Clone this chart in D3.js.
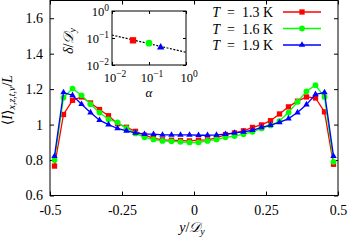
<!DOCTYPE html>
<html>
<head>
<style>
  body { margin: 0; background: #fff; }
  text { font-family: "Liberation Serif", "DejaVu Serif", serif; fill: #000; }
  .axis path { stroke: none; }
  .axis line { stroke: #000; stroke-width: 1; }
  .axis text { font-size: 14px; font-family: "Liberation Serif", serif; }
</style>
<script src="https://d3js.org/d3.v7.min.js"></script>
</head>
<body>
<svg width="349" height="240"></svg>
<script>
// y/D_y bin centres (32 bins)
var ypos = d3.range(32).map(function(i) { return -0.5 + (i + 0.5) / 32; });

var i13 = [0.766, 1.057, 1.137, 1.156, 1.122, 1.085, 1.050, 1.005, 0.985, 0.962, 0.940, 0.924, 0.914, 0.912, 0.910, 0.908,
           0.912, 0.914, 0.925, 0.944, 0.953, 0.965, 0.984, 0.998, 1.022, 1.060, 1.100, 1.132, 1.156, 1.150, 1.072, 0.776];
var i16 = [0.800, 1.152, 1.203, 1.165, 1.115, 1.068, 1.030, 1.012, 0.980, 0.950, 0.928, 0.916, 0.908, 0.906, 0.903, 0.899,
           0.899, 0.908, 0.916, 0.928, 0.935, 0.946, 0.959, 0.978, 0.995, 1.020, 1.068, 1.128, 1.188, 1.222, 1.156, 0.790];
var i19 = [0.822, 1.181, 1.165, 1.115, 1.068, 1.025, 1.000, 0.978, 0.965, 0.953, 0.946, 0.946, 0.942, 0.942, 0.942, 0.942,
           0.940, 0.940, 0.942, 0.946, 0.953, 0.959, 0.968, 0.984, 0.997, 1.012, 1.034, 1.068, 1.113, 1.171, 1.181, 0.822];

var temps = ["1.3", "1.6", "1.9"];
var colors = ["#ff0000", "#00ff00", "#0000ff"];

// inset: delta/D_y against alpha
var alpha = [0.037, 0.1, 0.207];
var delta = [0.082, 0.064, 0.0453];
var fitAlpha = [0.01, 1];
var fitDelta = [0.129, 0.0295];

var xTicks = [-0.5, -0.25, 0, 0.25, 0.5];
var yTicks = [0.6, 0.8, 1, 1.2, 1.4, 1.6];

var svg = d3.select("svg");
var L = 50, R = 338, T = 0.5, B = 195.5;

var x = d3.scaleLinear().domain([-0.5, 0.5]).range([L, R]);
var y = d3.scaleLinear().domain([0.6, 1.7]).range([B, T]);

svg.append("g").attr("class", "axis").attr("transform", "translate(0," + B + ")")
   .call(d3.axisBottom(x).tickValues(xTicks).tickSize(-4).tickPadding(9.5)
     .tickFormat(function(d) { return String(d); }));
svg.append("g").attr("class", "axis").attr("transform", "translate(0," + T + ")")
   .call(d3.axisTop(x).tickValues(xTicks).tickSize(-4).tickFormat(""));
svg.append("g").attr("class", "axis").attr("transform", "translate(" + L + ",0)")
   .call(d3.axisLeft(y).tickValues(yTicks).tickSize(-4).tickPadding(7)
     .tickFormat(function(d) { return d === 1 ? "1" : d3.format(".1f")(d); }));
svg.append("g").attr("class", "axis").attr("transform", "translate(" + R + ",0)")
   .call(d3.axisRight(y).tickValues(yTicks).tickSize(-4).tickFormat(""));

svg.append("rect").attr("x", L).attr("y", T).attr("width", R - L).attr("height", B - T)
   .attr("fill", "none").attr("stroke", "#000").attr("stroke-width", 1);

// data series
var series = [i13, i16, i19];
var line = d3.line().x(function(d, i) { return x(ypos[i]); }).y(function(d) { return y(d); });
var symbols = [d3.symbolSquare, d3.symbolCircle, d3.symbolTriangle];
var sizes = [28, 26, 18];

series.forEach(function(s, k) {
  svg.append("path").datum(s).attr("d", line)
     .attr("fill", "none").attr("stroke", colors[k]).attr("stroke-width", 1.3);
  svg.append("g").selectAll("path").data(s).enter().append("path")
     .attr("transform", function(d, i) { return "translate(" + x(ypos[i]) + "," + y(d) + ")"; })
     .attr("d", d3.symbol().type(symbols[k]).size(sizes[k]))
     .attr("fill", colors[k]);
});

// legend
var legY = [12, 28.5, 45];
temps.forEach(function(t, k) {
  var tx = svg.append("text").attr("x", 273).attr("y", legY[k] + 5)
     .attr("text-anchor", "end").style("font-size", "14px");
  tx.append("tspan").style("font-style", "italic").text("T");
  tx.append("tspan").text("\u2002=\u2002" + t + " K");
  svg.append("line").attr("x1", 283).attr("x2", 321).attr("y1", legY[k]).attr("y2", legY[k])
     .attr("stroke", colors[k]).attr("stroke-width", 1.3);
  svg.append("path").attr("transform", "translate(302," + legY[k] + ")")
     .attr("d", d3.symbol().type(symbols[k]).size(sizes[k])).attr("fill", colors[k]);
});

// axis titles
var xl = svg.append("text").attr("x", 192).attr("y", 232).attr("text-anchor", "middle").style("font-size", "14px");
xl.append("tspan").style("font-style", "italic").text("y");
xl.append("tspan").text("/");
xl.append("tspan").style("font-style", "italic").text("\uD835\uDC9F");
xl.append("tspan").style("font-style", "italic").style("font-size", "10px").attr("dy", 3).text("y");

var yl = svg.append("text").attr("transform", "translate(12,100) rotate(-90)")
   .attr("text-anchor", "middle").style("font-size", "14px");
yl.append("tspan").text("\u27E8");
yl.append("tspan").style("font-style", "italic").text("I");
yl.append("tspan").text("\u27E9");
yl.append("tspan").style("font-style", "italic").style("font-size", "10px").attr("dy", 3).text("x,z,t,v");
yl.append("tspan").attr("dy", -3).text("/");
yl.append("tspan").style("font-style", "italic").text("L");

// inset
var iL = 112, iR = 186, iT = 11, iB = 65;
var ix = d3.scaleLog().domain([0.01, 1]).range([iL, iR]);
var iy = d3.scaleLog().domain([0.01, 1]).range([iB, iT]);
var dec = [0.01, 0.1, 1];
var inset = svg.append("g");
inset.append("rect").attr("x", iL).attr("y", iT).attr("width", iR - iL).attr("height", iB - iT)
     .attr("fill", "#fff");
inset.append("g").attr("class", "axis").attr("transform", "translate(0," + iB + ")")
     .call(d3.axisBottom(ix).tickValues(dec).tickSize(-3).tickFormat(""));
inset.append("g").attr("class", "axis").attr("transform", "translate(0," + iT + ")")
     .call(d3.axisTop(ix).tickValues(dec).tickSize(-3).tickFormat(""));
inset.append("g").attr("class", "axis").attr("transform", "translate(" + iL + ",0)")
     .call(d3.axisLeft(iy).tickValues(dec).tickSize(-3).tickFormat(""));
inset.append("g").attr("class", "axis").attr("transform", "translate(" + iR + ",0)")
     .call(d3.axisRight(iy).tickValues(dec).tickSize(-3).tickFormat(""));

function pow10(sel, d) {
  var e = Math.round(Math.log10(d));
  sel.append("tspan").text("10");
  sel.append("tspan").attr("dy", -5).style("font-size", "9.5px").text(e < 0 ? "\u2212" + (-e) : e);
}
dec.forEach(function(d) {
  pow10(inset.append("text").attr("x", ix(d) + 3).attr("y", iB + 17).attr("text-anchor", "middle")
        .style("font-size", "12.5px"), d);
  pow10(inset.append("text").attr("x", iL - 3).attr("y", iy(d) + 5).attr("text-anchor", "end")
        .style("font-size", "12.5px"), d);
});

inset.append("path").datum(fitAlpha)
     .attr("d", d3.line().x(function(d) { return ix(d); }).y(function(d, i) { return iy(fitDelta[i]); }))
     .attr("stroke", "#000").attr("stroke-width", 1.2).attr("stroke-dasharray", "2,1.5").attr("fill", "none");
alpha.forEach(function(a, k) {
  inset.append("path").attr("transform", "translate(" + ix(a) + "," + iy(delta[k]) + ")")
       .attr("d", d3.symbol().type(symbols[k]).size([40, 36, 24][k])).attr("fill", colors[k]);
});
inset.append("rect").attr("x", iL).attr("y", iT).attr("width", iR - iL).attr("height", iB - iT)
     .attr("fill", "none").attr("stroke", "#000").attr("stroke-width", 1);

inset.append("text").attr("x", ix(0.1)).attr("y", 97).attr("text-anchor", "middle")
     .style("font-size", "13px").style("font-style", "italic").text("\u03B1");

var dl = inset.append("text").attr("transform", "translate(73,41) rotate(-90)")
     .attr("text-anchor", "middle").style("font-size", "14px");
dl.append("tspan").style("font-style", "italic").text("\u03B4");
dl.append("tspan").text("/");
dl.append("tspan").style("font-style", "italic").text("\uD835\uDC9F");
dl.append("tspan").style("font-style", "italic").style("font-size", "10px").attr("dy", 3).text("y");
</script>
</body>
</html>
